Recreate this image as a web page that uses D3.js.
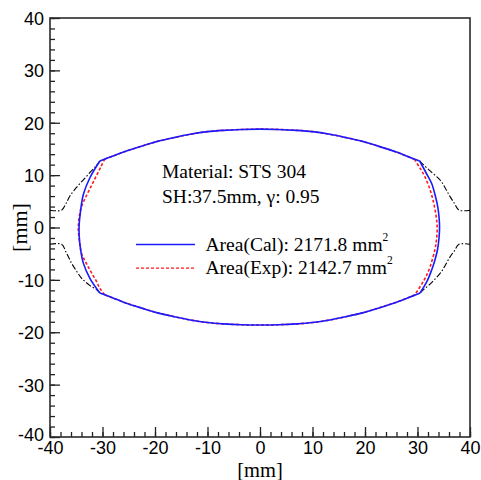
<!DOCTYPE html>
<html>
<head>
<meta charset="utf-8">
<script src="https://cdn.jsdelivr.net/npm/d3@7"></script>
<style>
  html, body { margin: 0; padding: 0; background: #fff; }
  svg { display: block; }
</style>
</head>
<body>
<svg id="chart" width="481" height="480"></svg>
<script>
// Axis ticks
const majorTicks = [-40, -30, -20, -10, 0, 10, 20, 30, 40];
const minorTicks = d3.range(-40, 40.01, 2);

// Calculated cross-section contour (mm), split into four arcs
const calTop = [[-30.5,12.7],[-28,13.65],[-26,14.4],[-22,15.7],[-19.7,16.4],[-16,17.25],[-13.3,17.8],[-10,18.3],[-7,18.55],[-3.5,18.72],[0,18.78],[3.5,18.72],[7,18.55],[10,18.3],[13.3,17.8],[16,17.25],[19.7,16.4],[22,15.7],[26,14.4],[28,13.6],[30.4,12.7]];
const calRight = [[30.4,12.7],[31.6,10.5],[32.7,8.4],[33.4,6.0],[33.85,4.0],[34.1,2.0],[34.2,0],[34.1,-2.0],[33.8,-4.3],[33.3,-6.3],[32.7,-8.1],[31.8,-10.3],[30.5,-12.5]];
const calBottom = [[30.5,-12.5],[28,-13.5],[26,-14.25],[22,-15.55],[19.7,-16.25],[16,-17.1],[13.3,-17.65],[10,-18.15],[7,-18.4],[3.5,-18.57],[0,-18.62],[-3.5,-18.57],[-7,-18.4],[-10,-18.15],[-13.3,-17.65],[-16,-17.1],[-19.7,-16.25],[-22,-15.55],[-26,-14.25],[-28,-13.45],[-30.5,-12.5]];
const calLeft = [[-30.5,-12.5],[-32.4,-9.7],[-33.65,-6.8],[-34.2,-4.0],[-34.45,-1.5],[-34.45,0.5],[-34.2,3.0],[-33.65,6.3],[-32.4,9.5],[-30.5,12.7]];

// Measured cross-section contour (mm)
const expTop = [[-29.6,13.05],[-28,13.65],[-26,14.4],[-22,15.7],[-19.7,16.4],[-16,17.25],[-13.3,17.8],[-10,18.3],[-7,18.55],[-3.5,18.72],[0,18.78],[3.5,18.72],[7,18.55],[10,18.3],[13.3,17.8],[16,17.25],[19.7,16.4],[22,15.7],[26,14.4],[28,13.6],[29.4,13.05]];
const expRight = [[29.4,13.05],[30.5,11.3],[31.4,9.7],[32.3,7.5],[32.95,5.25],[33.5,2.5],[33.75,0],[33.6,-2.5],[33.3,-4.3],[32.4,-7.5],[31.6,-9.4],[30.8,-10.8],[29.5,-12.85]];
const expBottom = [[29.5,-12.85],[28,-13.5],[26,-14.25],[22,-15.55],[19.7,-16.25],[16,-17.1],[13.3,-17.65],[10,-18.15],[7,-18.4],[3.5,-18.57],[0,-18.62],[-3.5,-18.57],[-7,-18.4],[-10,-18.15],[-13.3,-17.65],[-16,-17.1],[-19.7,-16.25],[-22,-15.55],[-26,-14.25],[-28,-13.45],[-29.6,-12.85]];
const expLeft = [[-29.6,-12.85],[-30.5,-11.6],[-31.3,-10.0],[-32.4,-8.1],[-33.2,-6.6],[-34.0,-4.9],[-34.4,-2.5],[-34.6,-0.5],[-34.5,1.5],[-34.0,4.0],[-33.0,6.2],[-31.9,8.4],[-31.1,10.0],[-30.3,11.6],[-29.6,13.05]];

// Die (roll) profile outside the section, dash-dot
const dieUpperLeft = [[-40,3.3],[-37.8,3.3],[-37.0,4.5],[-36.2,6.0],[-35.0,7.6],[-33.65,9.1],[-32.3,10.6],[-31.1,11.9],[-30.5,12.7]];
const dieLowerLeft = [[-40,-3.2],[-37.8,-3.2],[-36.9,-4.8],[-35.9,-6.8],[-34.9,-8.4],[-33.97,-9.7],[-32.5,-11.0],[-31.1,-11.9],[-30.5,-12.5]];
const dieUpperRight = [[30.4,12.7],[30.9,12.2],[32.5,10.7],[34.3,9.07],[35.3,7.5],[36.2,5.9],[37.1,4.5],[37.9,3.3],[40,3.3]];
const dieLowerRight = [[30.5,-12.5],[30.8,-12.2],[32.6,-10.6],[34.3,-8.75],[35.3,-7.2],[36.2,-5.6],[37.0,-4.5],[37.9,-3.2],[40,-3.2]];

const notes = ["Material: STS 304", "SH:37.5mm, \u03b3: 0.95"];
const legendLabels = ["Area(Cal): 2171.8 mm", "Area(Exp): 2142.7 mm"];

const svg = d3.select("#chart");
const plotLeft = 50, plotRight = 470, plotTop = 18, plotBottom = 437;

const x = d3.scaleLinear().domain([-40, 40]).range([plotLeft, plotRight]);
const y = d3.scaleLinear().domain([-40, 40]).range([plotBottom, plotTop]);

const sans = "'Liberation Sans', Arial, sans-serif";
const serif = "'Liberation Serif', 'Times New Roman', serif";
const tickFmt = d => String(d);

// Minor ticks (inward)
svg.append("g")
  .attr("transform", `translate(0,${plotBottom})`)
  .call(d3.axisBottom(x).tickValues(minorTicks).tickSize(-5).tickFormat(""))
  .call(g => g.select(".domain").remove())
  .call(g => g.selectAll("line").attr("stroke", "#222").attr("stroke-width", 1.3));
svg.append("g")
  .attr("transform", `translate(${plotLeft},0)`)
  .call(d3.axisLeft(y).tickValues(minorTicks).tickSize(-5).tickFormat(""))
  .call(g => g.select(".domain").remove())
  .call(g => g.selectAll("line").attr("stroke", "#222").attr("stroke-width", 1.3));

// Major ticks with labels
svg.append("g")
  .attr("transform", `translate(0,${plotBottom})`)
  .call(d3.axisBottom(x).tickValues(majorTicks).tickSize(-10).tickPadding(4).tickFormat(tickFmt))
  .call(g => g.select(".domain").remove())
  .call(g => g.selectAll("line").attr("stroke", "#222").attr("stroke-width", 1.3))
  .call(g => g.selectAll("text").attr("fill", "#000").style("font-family", sans).style("font-size", "18px").attr("dy", "0.72em"));
svg.append("g")
  .attr("transform", `translate(${plotLeft},0)`)
  .call(d3.axisLeft(y).tickValues(majorTicks).tickSize(-10).tickPadding(6).tickFormat(tickFmt))
  .call(g => g.select(".domain").remove())
  .call(g => g.selectAll("line").attr("stroke", "#222").attr("stroke-width", 1.3))
  .call(g => g.selectAll("text").attr("fill", "#000").style("font-family", sans).style("font-size", "18px")
    .attr("dy", d => d === -40 ? "0.2em" : "0.36em"));

// Plot frame
svg.append("rect")
  .attr("x", plotLeft).attr("y", plotTop)
  .attr("width", plotRight - plotLeft).attr("height", plotBottom - plotTop)
  .attr("fill", "none").attr("stroke", "#2a2a2a").attr("stroke-width", 1.6);

// Axis titles
svg.append("text")
  .attr("x", (plotLeft + plotRight) / 2).attr("y", 477)
  .attr("text-anchor", "middle")
  .style("font-family", serif).style("font-size", "20.5px")
  .text("[mm]");
svg.append("text")
  .attr("transform", `translate(27,${(plotTop + plotBottom) / 2}) rotate(-90)`)
  .attr("text-anchor", "middle")
  .style("font-family", serif).style("font-size", "22px")
  .text("[mm]");

const line = d3.line().x(d => x(d[0])).y(d => y(d[1])).curve(d3.curveCatmullRom.alpha(0.5));
const plot = svg.append("g");

// Die profile
[dieUpperLeft, dieLowerLeft, dieUpperRight, dieLowerRight].forEach(seg => {
  plot.append("path").attr("d", line(seg))
    .attr("fill", "none").attr("stroke", "#000").attr("stroke-width", 1.1)
    .attr("stroke-dasharray", "6,2,1.5,2");
});

// Measured contour
[expTop, expRight, expBottom, expLeft].forEach(seg => {
  plot.append("path").attr("d", line(seg))
    .attr("fill", "none").attr("stroke", "#ff1a1a").attr("stroke-width", 1.6)
    .attr("stroke-dasharray", "3,2");
});

// Calculated contour
[calTop, calRight, calBottom, calLeft].forEach(seg => {
  plot.append("path").attr("d", line(seg))
    .attr("fill", "none").attr("stroke", "#1a1aff").attr("stroke-width", 1.6);
});

// Annotation
notes.forEach((t, i) => {
  svg.append("text")
    .attr("x", 162).attr("y", 178 + i * 25)
    .style("font-family", serif).style("font-size", "19.5px")
    .text(t);
});

// Legend
const legendStyles = [
  { color: "#1a1aff", dash: null },
  { color: "#ff1a1a", dash: "3,2" }
];
legendLabels.forEach((t, i) => {
  const ly = 244.5 + i * 23.7;
  svg.append("line")
    .attr("x1", 136).attr("x2", 195).attr("y1", ly).attr("y2", ly)
    .attr("stroke", legendStyles[i].color).attr("stroke-width", 1.3)
    .attr("stroke-dasharray", legendStyles[i].dash);
  const txt = svg.append("text")
    .attr("x", 205.5).attr("y", ly + 6)
    .style("font-family", serif).style("font-size", "19.5px");
  txt.append("tspan").text(t);
  txt.append("tspan").attr("dy", -10).style("font-size", "11.5px").text("2");
});
</script>
</body>
</html>
